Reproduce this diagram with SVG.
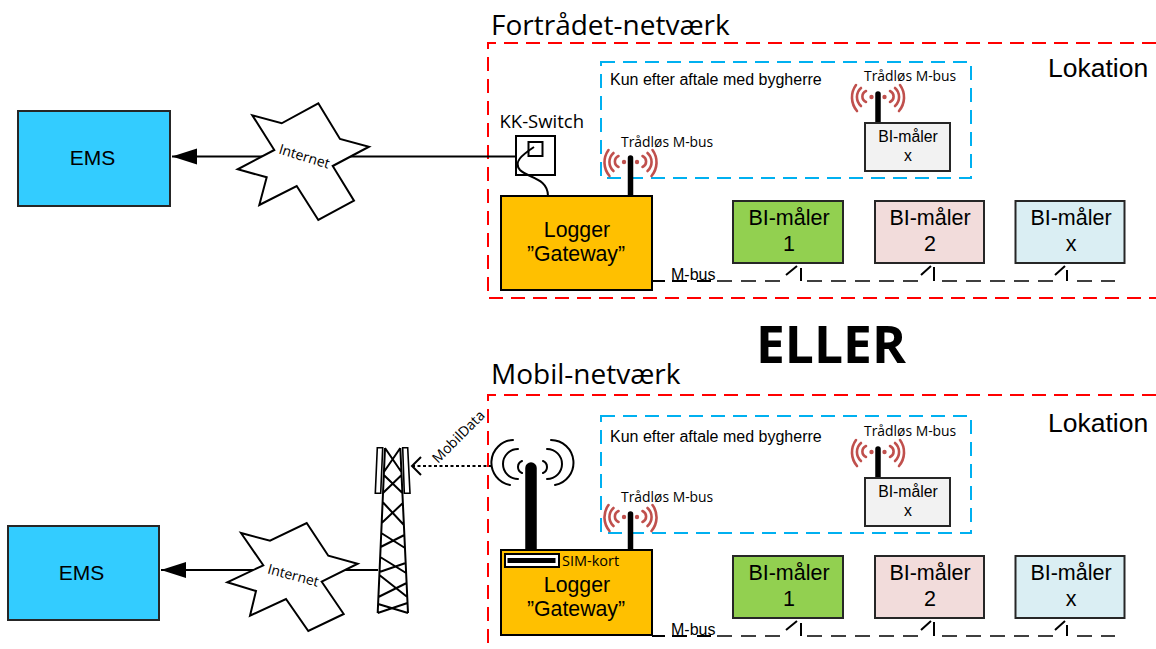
<svg xmlns="http://www.w3.org/2000/svg" xmlns:xlink="http://www.w3.org/1999/xlink" width="1156" height="649" viewBox="0 0 1156 649">
<style>
.arial{font-family:"Liberation Sans",Arial,sans-serif;fill:#000}
.open{font-family:"Open Sans","Noto Sans",sans-serif;fill:#000}
.box{stroke:#000;stroke-width:2}
.thin{stroke:#262626;stroke-width:2}
.red{fill:none;stroke:#f00;stroke-width:2;stroke-dasharray:14 8}
.blue{fill:none;stroke:#00b0f0;stroke-width:2;stroke-dasharray:14 8}
.star{fill:#fff;stroke:#000;stroke-width:2;stroke-linejoin:miter}
.line{fill:none;stroke:#000;stroke-width:2}
.dash{fill:none;stroke:#000;stroke-width:1.6;stroke-dasharray:15 9}
.wave{fill:none;stroke:#c0504d;stroke-width:2.600;stroke-linecap:round}
.blackwave{fill:none;stroke:#000;stroke-width:2;stroke-linecap:round}
.c{text-anchor:middle}
.big{font-size:21.500px}
.mid{font-size:21.300px}
.small{font-size:15.800px}
.radio{font-size:13.900px}
.note{font-size:16px}
.mb{font-size:16px}
.loc{font-size:26.500px}
</style>
<defs>
<marker id="bigArrow" markerUnits="userSpaceOnUse" markerWidth="26" markerHeight="18" refX="25" refY="8" orient="auto-start-reverse"><path d="M0 0L25 8L0 16Z" fill="#000"/></marker>
<g id="wifi">
<circle cx="-6.500" cy="0" r="2.200" fill="#c0504d"/><circle cx="6.500" cy="0" r="2.200" fill="#c0504d"/>
<path class="wave" d="M-12 -6A6 6 0 0 0 -12 5M-17 -9A12 12 0 0 0 -17 9M-22 -12A21 21 0 0 0 -21 14M12 -6A6 6 0 0 1 12 5M17 -9A12 12 0 0 1 17 9M22 -12A21 21 0 0 1 21 14"/>
</g>
</defs>

<rect width="1156" height="649" fill="#fff"/>

<g id="frames">
<path class="red" d="M1156 43H488V298H1156"/>
<path class="red" d="M1156 395H488V649"/>
<rect class="blue" x="601" y="62" width="370" height="116"/>
<rect class="blue" x="601" y="416" width="370" height="117"/>
</g>

<g id="connectors">
<path class="line" d="M172 156.500H516" marker-start="url(#bigArrow)"/>
<path class="line" d="M161 570H378" marker-start="url(#bigArrow)"/>
<path class="line" d="M492 466H412" stroke-dasharray="3 2.500"/>
<path class="line" d="M421 457L412 466L421 475"/>
<path class="line" d="M548 196C548 178 528 178 520 170C513 162 522 155 534 147"/>
<g id="mbus1">
<path class="line" d="M652 281H665"/>
<path class="dash" d="M717 281H782M807 281H925M942 281H1060M1077 281H1115"/>
<path class="line" stroke-width="1.600" d="M786 275L797 266M801 268V281M921 275L931 266M934 267V281M1055 275L1065 266M1067 270V281"/>
<path class="line" d="M672 281H687M697 281H711" stroke-width="1.300"/>
</g>
<g id="mbus2">
<path class="line" d="M652 636H665"/>
<path class="dash" d="M717 636H782M807 636H925M942 636H1060M1077 636H1115"/>
<path class="line" stroke-width="1.600" d="M786 630L797 621M801 623V636M921 630L931 621M934 622V636M1055 630L1065 621M1067 625V636"/>
<path class="line" d="M672 636H687M697 636H711" stroke-width="1.300"/>
</g>
</g>

<g id="ems1"><rect class="thin" x="18" y="111" width="152" height="95" fill="#3cf"/><text class="arial c" x="92.500" y="165" font-size="21">EMS</text></g>
<g id="ems2"><rect class="thin" x="8" y="526" width="151" height="94" fill="#3cf"/><text class="arial c" x="81.500" y="580" font-size="21">EMS</text></g>

<g id="internet1">
<polygon class="star" points="318.300,103.300 340,139 369,146.700 332.700,166 354,200.700 318.300,220 296.700,186 259.300,205 266.700,177.300 237.700,169.300 274.300,150 252.300,115.300 281.700,123.300"/>
<text class="open c" x="303" y="161" font-size="14" transform="rotate(17 303 161)">Internet</text>
</g>
<g id="internet2">
<polygon class="star" points="306.700,523 328.300,555.700 357.700,563.700 321.700,581.700 343.700,614 308.300,631 286,599 250,615.700 256,591 227.300,582.300 263.300,565.300 241,533 270,540.700"/>
<text class="open c" x="292" y="580" font-size="14" transform="rotate(15 292 580)">Internet</text>
</g>

<g id="tower">
<path class="line" d="M385 448L377.700 613M400.300 448L408 613M385 448L401.400 472M400.300 448L383.900 472M383.800 475L402.400 493M401.600 475L383 493M382.600 502L403.900 525M402.900 503L381.700 523M381.200 533L405 548M404.400 535L380.600 547M380.200 557L406.100 573M405.700 563L379.500 572M379.400 575L407.300 597M406.600 583L378.400 597M377.700 613L407.500 603M408 613L378.100 604"/>
<polygon points="377.300,447.700 382.700,447.700 380.700,493.300 375.300,493.300" fill="#fff" stroke="#000" stroke-width="1.600"/>
<polygon points="402.700,447.700 407.700,447.700 410,493.300 404.300,493.300" fill="#fff" stroke="#000" stroke-width="1.600"/>
<text class="open" x="0" y="0" font-size="14" transform="translate(438 464) rotate(-45)">MobilData</text>
</g>

<g id="kkswitch">
<text class="open" x="499.500" y="128" font-size="18.500">KK-Switch</text>
<rect x="516" y="136" width="39" height="39" fill="none" stroke="#000" stroke-width="2"/>
<rect x="528.500" y="142" width="14" height="14" fill="none" stroke="#000" stroke-width="2"/>
</g>

<g id="wifi-top1"><use xlink:href="#wifi" href="#wifi" x="630.500" y="162"/><path d="M630.500 158V196" stroke="#000" stroke-width="5.500" stroke-linecap="round"/><text class="open radio" x="621" y="147">Trådløs M-bus</text></g>
<g id="wifi-top2"><use xlink:href="#wifi" href="#wifi" x="878" y="97"/><path d="M878 94V123" stroke="#000" stroke-width="5.500" stroke-linecap="round"/><text class="open radio" x="864" y="81">Trådløs M-bus</text></g>
<g id="wifi-low1"><use xlink:href="#wifi" href="#wifi" x="630.500" y="517"/><path d="M630.500 514V550" stroke="#000" stroke-width="5.500" stroke-linecap="round"/><text class="open radio" x="621" y="502">Trådløs M-bus</text></g>
<g id="wifi-low2"><use xlink:href="#wifi" href="#wifi" x="878" y="452"/><path d="M878 449V478" stroke="#000" stroke-width="5.500" stroke-linecap="round"/><text class="open radio" x="864" y="436">Trådløs M-bus</text></g>

<g id="logger1"><rect class="box" x="501" y="196" width="151" height="94" fill="#ffc000"/><text class="arial c mid" x="577" y="237">Logger</text><text class="arial c mid" x="576" y="261">”Gateway”</text></g>
<g id="logger2">
<path d="M531 468V551" stroke="#000" stroke-width="11.500" stroke-linecap="round" fill="none"/>
<path class="blackwave" d="M522 461A6.500 6.500 0 0 0 522 473M518 449A15 15 0 0 0 518 479M513 440A22.700 22.700 0 0 0 510 485M543 461A6.500 6.500 0 0 1 543 473M547 449A15 15 0 0 1 547 479M551 440A22.700 22.700 0 0 1 555 485"/>
<rect class="box" x="501" y="550" width="151" height="85" fill="#ffc000"/>
<rect x="505" y="554" width="54" height="13" fill="#fff" stroke="#000" stroke-width="2"/>
<rect x="507.500" y="558" width="48" height="5" fill="#000"/>
<text class="open" x="562" y="566" font-size="14.500">SIM-kort</text>
<text class="arial c mid" x="577" y="592">Logger</text><text class="arial c mid" x="576" y="616">”Gateway”</text>
</g>

<g id="maaler-1"><rect class="thin" x="733" y="201" width="110" height="62" fill="#92d050"/><text class="arial c big" x="789" y="225">BI-måler</text><text class="arial c big" x="789" y="251">1</text></g>
<g id="maaler-2"><rect class="thin" x="875" y="201" width="109" height="62" fill="#f2dcdb"/><text class="arial c big" x="930" y="225">BI-måler</text><text class="arial c big" x="930" y="251">2</text></g>
<g id="maaler-x"><rect class="thin" x="1015.500" y="201" width="109" height="62" fill="#daeef3"/><text class="arial c big" x="1071" y="225">BI-måler</text><text class="arial c big" x="1071" y="251">x</text></g>
<g id="maaler-y"><rect class="thin" x="865" y="123" width="85" height="48" fill="#f2f2f2"/><text class="arial c small" x="908" y="142">BI-måler</text><text class="arial c small" x="908" y="161">x</text></g>
<g id="maaler2-1"><rect class="thin" x="733" y="556" width="110" height="62" fill="#92d050"/><text class="arial c big" x="789" y="580">BI-måler</text><text class="arial c big" x="789" y="606">1</text></g>
<g id="maaler2-2"><rect class="thin" x="875" y="556" width="109" height="62" fill="#f2dcdb"/><text class="arial c big" x="930" y="580">BI-måler</text><text class="arial c big" x="930" y="606">2</text></g>
<g id="maaler2-x"><rect class="thin" x="1015.500" y="556" width="109" height="62" fill="#daeef3"/><text class="arial c big" x="1071" y="580">BI-måler</text><text class="arial c big" x="1071" y="606">x</text></g>
<g id="maaler2-y"><rect class="thin" x="865" y="478" width="85" height="48" fill="#f2f2f2"/><text class="arial c small" x="908" y="497">BI-måler</text><text class="arial c small" x="908" y="516">x</text></g>

<g id="labels">
<text class="open" x="491" y="35" font-size="28">Fortrådet-netværk</text>
<text class="open" x="491" y="384" font-size="28">Mobil-netværk</text>
<text class="open" x="756" y="363" font-size="51.500" font-weight="700">ELLER</text>
<text class="arial loc" x="1048" y="77">Lokation</text>
<text class="arial loc" x="1048" y="432">Lokation</text>
<text class="arial note" x="610" y="85">Kun efter aftale med bygherre</text>
<text class="arial note" x="610" y="442">Kun efter aftale med bygherre</text>
<text class="arial mb" x="671" y="280">M-bus</text>
<text class="arial mb" x="671" y="635">M-bus</text>
</g>
</svg>
